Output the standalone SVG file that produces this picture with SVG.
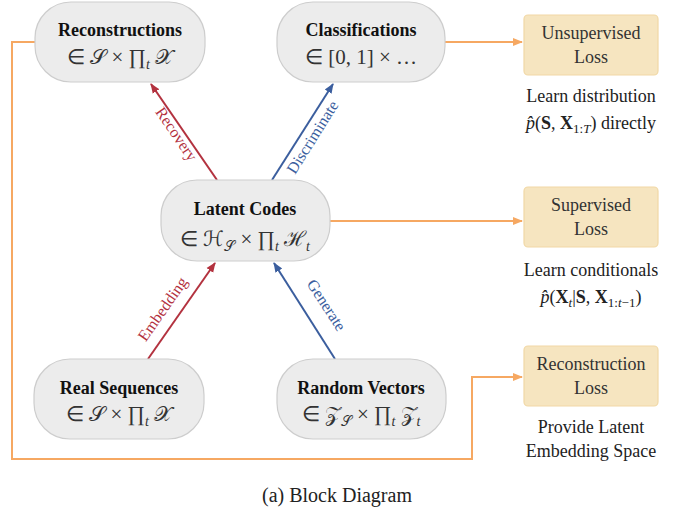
<svg xmlns="http://www.w3.org/2000/svg" width="675" height="516" viewBox="0 0 675 516">
<defs>
<marker id="ar" viewBox="0 0 10 10" refX="9" refY="5" markerWidth="5" markerHeight="5" orient="auto"><path d="M0,1 L10,5 L0,9 z" fill="#b3323f"/></marker>
<marker id="ab" viewBox="0 0 10 10" refX="9" refY="5" markerWidth="5" markerHeight="5" orient="auto"><path d="M0,1 L10,5 L0,9 z" fill="#3b5e9e"/></marker>
<marker id="ao" viewBox="0 0 10 10" refX="9" refY="5" markerWidth="5" markerHeight="5" orient="auto"><path d="M0,1 L10,5 L0,9 z" fill="#f6a862"/></marker>
</defs>
<rect width="675" height="516" fill="#fff"/>
<g id="connectors" fill="none" stroke-width="2">
<path stroke="#f6a862" d="M35,42 H12 V459 H472 V377 H522" marker-end="url(#ao)"/>
<path stroke="#f6a862" d="M445,42 H522" marker-end="url(#ao)"/>
<path stroke="#f6a862" d="M330,221 H522" marker-end="url(#ao)"/>
<path stroke="#b3323f" d="M217,180 L151,84" marker-end="url(#ar)"/>
<path stroke="#3b5e9e" d="M272,180 L333,84" marker-end="url(#ab)"/>
<path stroke="#b3323f" d="M148,359 L215,263" marker-end="url(#ar)"/>
<path stroke="#3b5e9e" d="M335,359 L274,263" marker-end="url(#ab)"/>
</g>
<text font-family="Times New Roman" font-size="16" fill="#b3323f" text-anchor="middle" transform="translate(172,137) rotate(55.8)">Recovery</text>
<text font-family="Times New Roman" font-size="16" fill="#3b5e9e" text-anchor="middle" transform="translate(317,140) rotate(-57.8)">Discriminate</text>
<text font-family="Times New Roman" font-size="16" fill="#b3323f" text-anchor="middle" transform="translate(167,312) rotate(-55)">Embedding</text>
<text font-family="Times New Roman" font-size="16" fill="#3b5e9e" text-anchor="middle" transform="translate(322,308) rotate(57)">Generate</text>
<g id="reconstructions">
<rect fill="#ececec" stroke="#cdcdcd" stroke-width="1.2" x="35" y="2" width="170" height="80" rx="36"/>
<text font-family="Liberation Serif" font-weight="bold" font-size="18" fill="#111" text-anchor="middle" x="120" y="36">Reconstructions</text>
<text font-family="Liberation Serif" font-size="21" fill="#333" text-anchor="middle" x="120" y="64">∈ 𝒮 × ∏<tspan font-size="14" font-style="italic" dy="5">t</tspan><tspan dy="-5"> 𝒳</tspan></text>
</g>
<g id="classifications">
<rect fill="#ececec" stroke="#cdcdcd" stroke-width="1.2" x="277" y="2" width="168" height="80" rx="36"/>
<text font-family="Liberation Serif" font-weight="bold" font-size="18" fill="#111" text-anchor="middle" x="361" y="36">Classifications</text>
<text font-family="Liberation Serif" font-size="21" fill="#333" text-anchor="middle" x="361" y="64">∈ [0, 1] × …</text>
</g>
<g id="latent">
<rect fill="#ececec" stroke="#cdcdcd" stroke-width="1.2" x="161" y="180" width="169" height="81" rx="36"/>
<text font-family="Liberation Serif" font-weight="bold" font-size="18" fill="#111" text-anchor="middle" x="245" y="215">Latent Codes</text>
<text font-family="Liberation Serif" font-size="21" fill="#333" text-anchor="middle" x="245" y="246">∈ ℋ<tspan font-size="14" dy="5">𝒮</tspan><tspan dy="-5"> × ∏</tspan><tspan font-size="14" font-style="italic" dy="5">t</tspan><tspan dy="-5"> ℋ</tspan><tspan font-size="14" font-style="italic" dy="5">t</tspan></text>
</g>
<g id="real">
<rect fill="#ececec" stroke="#cdcdcd" stroke-width="1.2" x="34" y="359" width="170" height="80" rx="36"/>
<text font-family="Liberation Serif" font-weight="bold" font-size="18" fill="#111" text-anchor="middle" x="119" y="394">Real Sequences</text>
<text font-family="Liberation Serif" font-size="21" fill="#333" text-anchor="middle" x="119" y="421">∈ 𝒮 × ∏<tspan font-size="14" font-style="italic" dy="5">t</tspan><tspan dy="-5"> 𝒳</tspan></text>
</g>
<g id="random">
<rect fill="#ececec" stroke="#cdcdcd" stroke-width="1.2" x="277" y="359" width="169" height="80" rx="36"/>
<text font-family="Liberation Serif" font-weight="bold" font-size="18" fill="#111" text-anchor="middle" x="361" y="394">Random Vectors</text>
<text font-family="Liberation Serif" font-size="21" fill="#333" text-anchor="middle" x="361" y="421">∈ 𝒵<tspan font-size="14" dy="5">𝒮</tspan><tspan dy="-5"> × ∏</tspan><tspan font-size="14" font-style="italic" dy="5">t</tspan><tspan dy="-5"> 𝒵</tspan><tspan font-size="14" font-style="italic" dy="5">t</tspan></text>
</g>
<g id="unsup">
<rect fill="#f6e5c0" stroke="#f1d8a6" stroke-width="1.2" x="524" y="15" width="134" height="60" rx="4"/>
<text font-family="Liberation Serif" font-size="18" fill="#333" text-anchor="middle" x="591" y="39">Unsupervised</text>
<text font-family="Liberation Serif" font-size="18" fill="#333" text-anchor="middle" x="591" y="63">Loss</text>
<text font-family="Liberation Serif" font-size="18" fill="#222" text-anchor="middle" x="591" y="102">Learn distribution</text>
<text font-family="Liberation Serif" font-size="18" fill="#222" text-anchor="middle" x="591" y="129"><tspan font-style="italic">p̂</tspan>(<tspan font-weight="bold">S</tspan>, <tspan font-weight="bold">X</tspan><tspan font-size="13" dy="4">1:<tspan font-style="italic">T</tspan></tspan><tspan dy="-4">) directly</tspan></text>
</g>
<g id="sup">
<rect fill="#f6e5c0" stroke="#f1d8a6" stroke-width="1.2" x="524" y="187" width="134" height="60" rx="4"/>
<text font-family="Liberation Serif" font-size="18" fill="#333" text-anchor="middle" x="591" y="211">Supervised</text>
<text font-family="Liberation Serif" font-size="18" fill="#333" text-anchor="middle" x="591" y="235">Loss</text>
<text font-family="Liberation Serif" font-size="18" fill="#222" text-anchor="middle" x="591" y="276">Learn conditionals</text>
<text font-family="Liberation Serif" font-size="18" fill="#222" text-anchor="middle" x="591" y="303"><tspan font-style="italic">p̂</tspan>(<tspan font-weight="bold">X</tspan><tspan font-size="13" font-style="italic" dy="4">t</tspan><tspan dy="-4">|</tspan><tspan font-weight="bold">S</tspan>, <tspan font-weight="bold">X</tspan><tspan font-size="13" dy="4">1:<tspan font-style="italic">t</tspan>−1</tspan><tspan dy="-4">)</tspan></text>
</g>
<g id="recon">
<rect fill="#f6e5c0" stroke="#f1d8a6" stroke-width="1.2" x="524" y="346" width="134" height="60" rx="4"/>
<text font-family="Liberation Serif" font-size="18" fill="#333" text-anchor="middle" x="591" y="370">Reconstruction</text>
<text font-family="Liberation Serif" font-size="18" fill="#333" text-anchor="middle" x="591" y="394">Loss</text>
<text font-family="Liberation Serif" font-size="18" fill="#222" text-anchor="middle" x="591" y="433">Provide Latent</text>
<text font-family="Liberation Serif" font-size="18" fill="#222" text-anchor="middle" x="591" y="457">Embedding Space</text>
</g>
<text font-family="Liberation Serif" font-size="20" fill="#222" x="262" y="502">(a) Block Diagram</text>
</svg>
